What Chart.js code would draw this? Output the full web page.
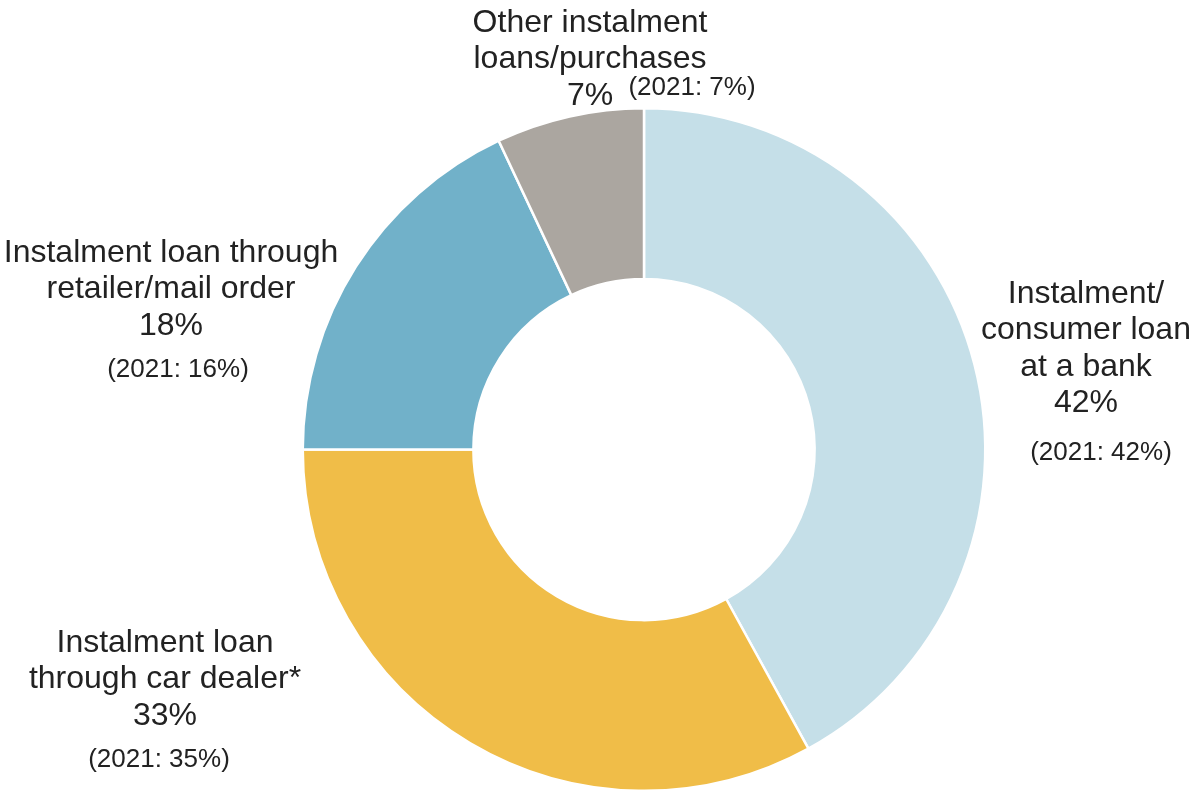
<!DOCTYPE html>
<html>
<head>
<meta charset="utf-8">
<script src="https://cdn.jsdelivr.net/npm/chart.js@4.4.1/dist/chart.umd.min.js"></script>
<style>
  html, body { margin: 0; padding: 0; background: #ffffff; }
  #wrap { width: 1191px; height: 793px; position: relative; }
</style>
</head>
<body>
<div id="wrap"><canvas id="loanChart" width="1191" height="793"></canvas></div>
<script>
// Share of instalment loans by channel
const categories = [
    'Instalment/ consumer loan at a bank',
    'Instalment loan through car dealer*',
    'Instalment loan through retailer/mail order',
    'Other instalment loans/purchases'
];
const shares2022 = [42, 33, 18, 7];
const shares2021 = [42, 35, 16, 7];
const labelLines = [
    ['Instalment/', 'consumer loan', 'at a bank'],
    ['Instalment loan', 'through car dealer*'],
    ['Instalment loan through', 'retailer/mail order'],
    ['Other instalment', 'loans/purchases']
];
const sliceColors = ['#c5dfe8', '#f0bd48', '#71b1c9', '#aba6a0'];

// Where each label block sits, relative to the doughnut centre (px, text baselines)
const labelPlacement = [
    { x: 442, y: -147, small: { x: 457, y: 10 } },
    { x: -479, y: 202, small: { x: -485, y: 317 } },
    { x: -473, y: -188, small: { x: -466, y: -73 } },
    { x: -54, y: -418, small: { x: 48, y: -355 } }
];

const mainFont = '32px "Liberation Sans", Arial, sans-serif';
const smallFont = '26px "Liberation Sans", Arial, sans-serif';
const lineGap = 36.5;

const sliceLabels = {
    id: 'sliceLabels',
    afterDraw(chart) {
        const ctx = chart.ctx;
        const meta = chart.getDatasetMeta(0);
        const cx = meta.data[0].x;
        const cy = meta.data[0].y;
        ctx.save();
        ctx.fillStyle = '#222222';
        ctx.textAlign = 'center';
        ctx.textBaseline = 'alphabetic';
        labelPlacement.forEach((p, i) => {
            const lines = labelLines[i].concat([shares2022[i] + '%']);
            ctx.font = mainFont;
            lines.forEach((line, k) => {
                ctx.fillText(line, cx + p.x, cy + p.y + k * lineGap);
            });
            ctx.font = smallFont;
            ctx.fillText('(2021: ' + shares2021[i] + '%)', cx + p.small.x, cy + p.small.y);
        });
        ctx.restore();
    }
};

const ctx = document.getElementById('loanChart').getContext('2d');
new Chart(ctx, {
    type: 'doughnut',
    data: {
        labels: categories,
        datasets: [{
            data: shares2022,
            backgroundColor: sliceColors,
            borderColor: '#ffffff',
            borderWidth: 2.5
        }]
    },
    options: {
        responsive: false,
        animation: false,
        cutout: '50%',
        layout: { padding: { top: 107, bottom: 1, left: 97, right: 0 } },
        plugins: {
            legend: { display: false },
            tooltip: { enabled: false }
        }
    },
    plugins: [sliceLabels]
});
</script>
</body>
</html>
